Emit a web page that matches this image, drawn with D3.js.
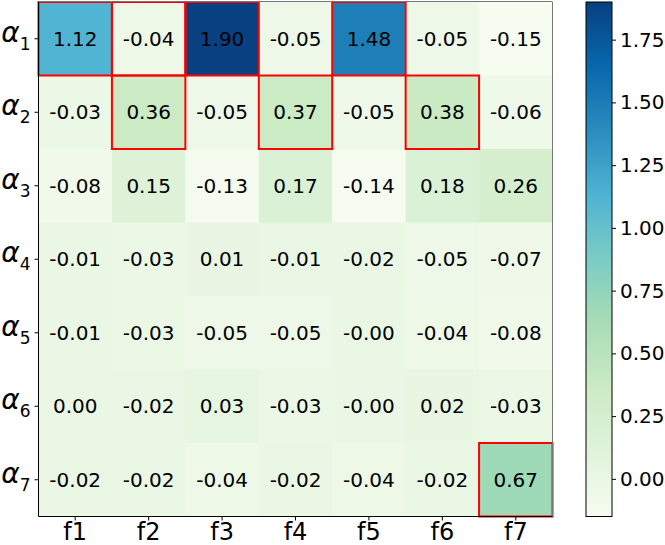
<!DOCTYPE html>
<html>
<head>
<meta charset="utf-8">
<script src="https://cdn.jsdelivr.net/npm/d3@7"></script>
<style>
  body { margin: 0; background: #fff; }
  text { font-family: "DejaVu Sans", sans-serif; }
</style>
</head>
<body>
<svg id="chart" width="665" height="545"></svg>
<script>
// data
var features = ["f1", "f2", "f3", "f4", "f5", "f6", "f7"];
var alphas = ["1", "2", "3", "4", "5", "6", "7"];
var row1 = [1.12, -0.04, 1.90, -0.05, 1.48, -0.05, -0.15];
var row2 = [-0.03, 0.36, -0.05, 0.37, -0.05, 0.38, -0.06];
var row3 = [-0.08, 0.15, -0.13, 0.17, -0.14, 0.18, 0.26];
var row4 = [-0.01, -0.03, 0.01, -0.01, -0.02, -0.05, -0.07];
var row5 = [-0.01, -0.03, -0.05, -0.05, -0, -0.04, -0.08];
var row6 = [0.00, -0.02, 0.03, -0.03, -0, 0.02, -0.03];
var row7 = [-0.02, -0.02, -0.04, -0.02, -0.04, -0.02, 0.67];
var rows = [row1, row2, row3, row4, row5, row6, row7];
// highlighted cells [row, col]
var boxed = [[0, 0], [0, 1], [0, 2], [0, 4], [1, 1], [1, 3], [1, 5], [6, 6]];
var cbarTicks = [0, 0.25, 0.5, 0.75, 1.0, 1.25, 1.5, 1.75];
var vmin = -0.15, vmax = 1.90;

var svg = d3.select("#chart");

var x = d3.scaleBand().domain(features).range([38.5, 552.5]);
var y = d3.scaleBand().domain(alphas).range([2, 516.5]);

// matplotlib GnBu = linear ramp through the 9 ColorBrewer colours
var gnbu = d3.schemeGnBu[9];
var color = d3.scaleLinear()
    .domain(gnbu.map(function (c, i) { return vmin + (vmax - vmin) * i / 8; }))
    .range(gnbu)
    .interpolate(d3.interpolateRgb)
    .clamp(true);

function fmt(v) {
    var neg = v < 0 || Object.is(v, -0);
    return (neg ? "-" : "") + Math.abs(v).toFixed(2);
}

var cells = [];
rows.forEach(function (r, i) {
    r.forEach(function (v, j) {
        cells.push({ row: alphas[i], col: features[j], value: v });
    });
});

var g = svg.append("g");
g.selectAll("rect.cell")
    .data(cells)
    .enter()
    .append("rect")
    .attr("class", "cell")
    .attr("x", function (d) { return x(d.col); })
    .attr("y", function (d) { return y(d.row); })
    .attr("width", x.bandwidth() + 0.5)
    .attr("height", y.bandwidth() + 0.5)
    .attr("fill", function (d) { return color(d.value); });

g.selectAll("text.val")
    .data(cells)
    .enter()
    .append("text")
    .attr("class", "val")
    .attr("x", function (d) { return x(d.col) + x.bandwidth() / 2; })
    .attr("y", function (d) { return y(d.row) + y.bandwidth() / 2; })
    .attr("dy", "0.36em")
    .attr("text-anchor", "middle")
    .attr("font-size", 20)
    .attr("fill", "#000")
    .text(function (d) { return fmt(d.value); });

g.selectAll("rect.box")
    .data(boxed)
    .enter()
    .append("rect")
    .attr("class", "box")
    .attr("x", function (d) { return x(features[d[1]]); })
    .attr("y", function (d) { return y(alphas[d[0]]); })
    .attr("width", x.bandwidth())
    .attr("height", y.bandwidth())
    .attr("fill", "none")
    .attr("stroke", "#ff0000")
    .attr("stroke-width", 2);

// spines
var x0 = x.range()[0], x1 = x.range()[1], y0 = y.range()[0], y1 = y.range()[1];
svg.append("line").attr("x1", x0).attr("x2", x1).attr("y1", y0 - 0.5).attr("y2", y0 - 0.5).attr("stroke", "#777");
svg.append("line").attr("x1", x1).attr("x2", x1).attr("y1", y0).attr("y2", y1).attr("stroke", "#777");
svg.append("line").attr("x1", x0).attr("x2", x0).attr("y1", y0).attr("y2", y1).attr("stroke", "#000");
svg.append("line").attr("x1", x0).attr("x2", x1).attr("y1", y1).attr("y2", y1).attr("stroke", "#000");

// x axis
var xa = svg.append("g")
    .attr("transform", "translate(0," + y1 + ")")
    .call(d3.axisBottom(x).tickSize(4).tickPadding(2));
xa.select(".domain").remove();
xa.selectAll("text").attr("font-size", 24).attr("fill", "#000").attr("font-family", "DejaVu Sans");

// y axis with alpha subscripts
var ya = svg.append("g")
    .attr("transform", "translate(" + x0 + ",0)")
    .call(d3.axisLeft(y).tickSize(4).tickFormat(""));
ya.select(".domain").remove();
ya.selectAll(".tick").each(function (d) {
    var t = d3.select(this).append("text")
        .attr("x", -8)
        .attr("dy", "0.32em")
        .attr("text-anchor", "end")
        .attr("fill", "#000")
        .attr("font-family", "DejaVu Sans");
    t.append("tspan").attr("font-size", 28).attr("font-style", "italic").text("\u03b1");
    t.append("tspan").attr("font-size", 17).attr("dy", "0.45em").text(d);
});

// colorbar
var cbX = 586, cbW = 26;
var cy = d3.scaleLinear().domain([vmin, vmax]).range([y1, y0]);
var defs = svg.append("defs");
var grad = defs.append("linearGradient")
    .attr("id", "cbgrad")
    .attr("x1", 0).attr("x2", 0).attr("y1", 1).attr("y2", 0);
grad.selectAll("stop")
    .data(gnbu)
    .enter()
    .append("stop")
    .attr("offset", function (c, i) { return i / 8; })
    .attr("stop-color", function (c) { return c; });
svg.append("rect")
    .attr("x", cbX).attr("y", cy(vmax))
    .attr("width", cbW).attr("height", cy(vmin) - cy(vmax))
    .attr("fill", "url(#cbgrad)")
    .attr("stroke", "#000").attr("stroke-width", 1);
var ca = svg.append("g")
    .attr("transform", "translate(" + (cbX + cbW) + ",0)")
    .call(d3.axisRight(cy).tickValues(cbarTicks).tickSize(4).tickPadding(4).tickFormat(d3.format(".2f")));
ca.select(".domain").remove();
ca.selectAll("text").attr("font-size", 20).attr("fill", "#000").attr("font-family", "DejaVu Sans");
</script>
</body>
</html>
